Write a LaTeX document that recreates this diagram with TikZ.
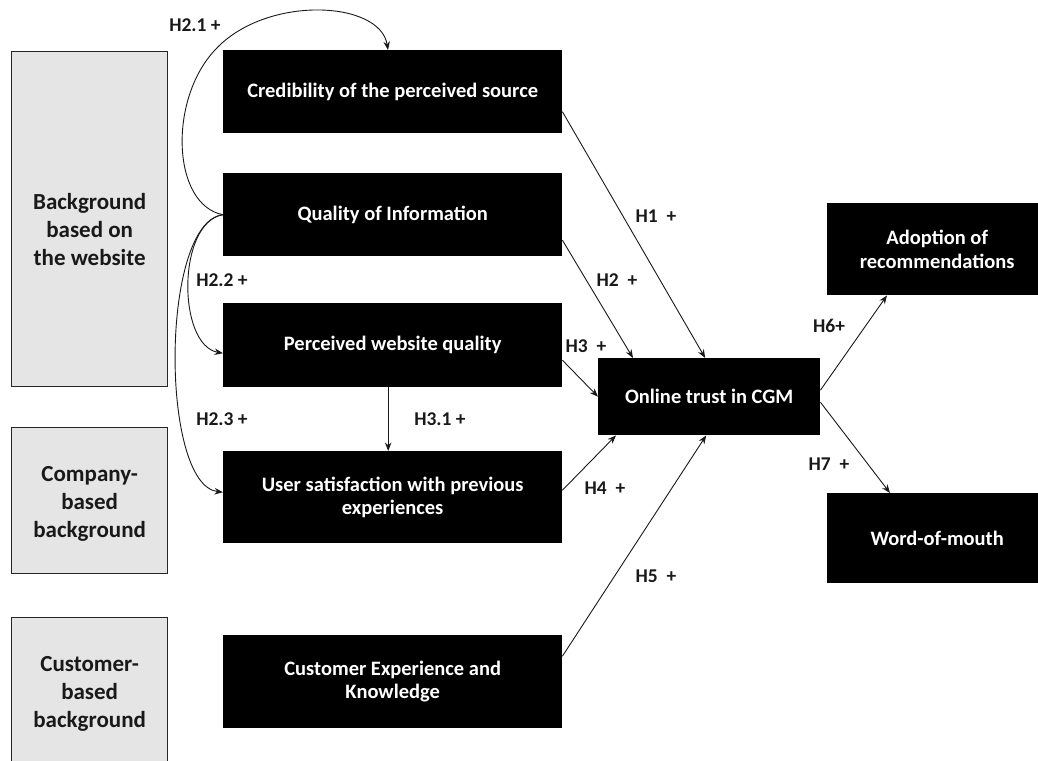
\documentclass[tikz,border=0pt]{standalone}
\usepackage{fontspec}
\setmainfont{Carlito}
\usetikzlibrary{arrows.meta}
\begin{document}
\begin{tikzpicture}[x=1pt,y=-1pt,
  blackbox/.style={fill=black, text=white, font=\fontsize{20.5}{23.5}\selectfont\bfseries, align=center, inner sep=0pt, anchor=north west},
  graybox/.style={draw=black!85, line width=1.3pt, fill=gray!20, inner sep=0pt, anchor=north west, minimum width=156pt},
  graytext/.style={font=\fontsize{23}{28}\selectfont\bfseries, align=center, text=black!90},
  lbl/.style={font=\fontsize{19.5}{22}\selectfont\bfseries, text=black!90, inner sep=0pt},
  arr/.style={-{Stealth[length=8.5pt,width=6.5pt]}, line width=0.9pt, draw=black!90}]
\useasboundingbox (0,0) rectangle (1038,760);
\clip (0,0) rectangle (1038,760);

% gray background boxes
\node[graybox, minimum height=335pt, label={[graytext, yshift=-10pt]center:Background\\based on\\the website}] (g1) at (11,51) {};
\node[graybox, minimum height=146pt, label={[graytext, yshift=-3pt]center:Company-\\based\\background}] (g2) at (11,427) {};
\node[graybox, minimum height=152pt, label={[graytext]center:Customer-\\based\\background}] (g3) at (11,617) {};

% black construct boxes
\node[blackbox, minimum width=339pt, minimum height=83pt] (cred) at (223,50) {Credibility of the perceived source};
\node[blackbox, minimum width=339pt, minimum height=83pt] (qual) at (223,173) {Quality of Information};
\node[blackbox, minimum width=339pt, minimum height=84pt] (perc) at (223,303) {Perceived website quality};
\node[blackbox, minimum width=339pt, minimum height=92pt] (usat) at (223,451) {User satisfaction with previous\\experiences};
\node[blackbox, minimum width=339pt, minimum height=93pt] (cexp) at (223,635) {Customer Experience and\\Knowledge};
\node[blackbox, minimum width=222pt, minimum height=77pt] (trust) at (598,358) {Online trust in CGM};
\node[blackbox, minimum width=220pt, minimum height=92pt] (adopt) at (827,203) {Adoption of\\recommendations};
\node[blackbox, minimum width=220pt, minimum height=90pt] (wom) at (827,493) {Word-of-mouth};

% connectors
\draw[arr] (qual.west) .. controls (172,205) and (168,100) .. (215,50) .. controls (265,-5) and (380,0) .. ([xshift=165pt]cred.north west);
\draw[arr] (qual.west) .. controls (177,222) and (177,345) .. ([yshift=-8pt]perc.west);
\draw[arr] (qual.west) .. controls (160,222) and (160,485) .. ([yshift=5pt]usat.west);
\draw[arr] ([xshift=-4.5pt]perc.south) -- ([xshift=-4.5pt]usat.north);
\draw[arr] ([yshift=-20pt]cred.east) -- ([xshift=-4pt]trust.north);
\draw[arr] ([yshift=-25.5pt]qual.east) -- ([xshift=35pt]trust.north west);
\draw[arr] ([yshift=-15pt]perc.east) -- (trust.west);
\draw[arr] ([yshift=7pt]usat.east) -- ([xshift=18pt]trust.south west);
\draw[arr] ([yshift=25.5pt]cexp.east) -- ([xshift=-3pt]trust.south);
\draw[arr] ([yshift=6.5pt]trust.east) -- ([xshift=60pt]adopt.south west);
\draw[arr] ([yshift=-5.5pt]trust.east) -- ([xshift=63pt]wom.north west);

% labels
\node[lbl] (l21) at (195,25) {H2.1 +};
\node[lbl] (l22) at (222,280) {H2.2 +};
\node[lbl] (l23) at (222,419) {H2.3 +};
\node[lbl] (l31) at (440,419) {H3.1 +};
\node[lbl] (l1) at (656,216) {H1\ \ +};
\node[lbl] (l2) at (617,280) {H2\ \ +};
\node[lbl] (l3) at (586,346) {H3\ \ +};
\node[lbl] (l4) at (605,488) {H4\ \ +};
\node[lbl] (l5) at (656,576) {H5\ \ +};
\node[lbl] (l6) at (829,326) {H6+};
\node[lbl] (l7) at (829,464) {H7\ \ +};
\end{tikzpicture}
\end{document}
